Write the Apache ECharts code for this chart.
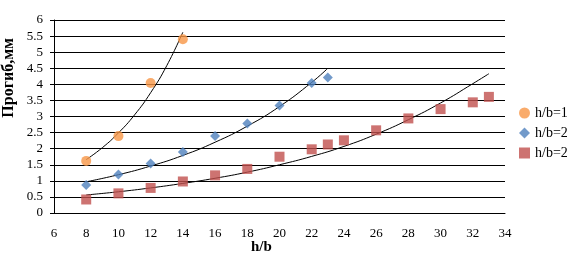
<!DOCTYPE html>
<html>
<head>
<meta charset="utf-8">
<script src="https://cdn.jsdelivr.net/npm/echarts@6/dist/echarts.min.js"></script>
<style>
  html, body { margin: 0; padding: 0; background: #fff; }
  #chart { width: 571px; height: 257px; }
</style>
</head>
<body>
<div id="chart"></div>
<script>
// measured points [h/b, deflection]
const series1 = [[8, 1.62], [10, 2.39], [12, 4.04], [14, 5.40]];
const series2 = [[8, 0.87], [10, 1.20], [12, 1.54], [14, 1.90], [16, 2.39], [18, 2.78], [20, 3.34], [22, 4.04], [23, 4.21]];
const series3 = [[8, 0.42], [10, 0.61], [12, 0.78], [14, 0.98], [16, 1.17], [18, 1.37], [20, 1.75], [22, 1.98], [23, 2.13], [24, 2.26], [26, 2.57], [28, 2.94], [30, 3.23], [32, 3.44], [33, 3.61]];

// trend lines
const trend1 = [[8, 1.66], [9, 2.03], [10, 2.49], [11, 3.05], [12, 3.74], [13, 4.58], [14, 5.62]];
const trend2 = [[8, 0.97], [10, 1.19], [12, 1.46], [14, 1.79], [16, 2.2], [18, 2.7], [20, 3.31], [22, 4.06], [23, 4.5]];
const trend3 = [[8, 0.56], [10, 0.66], [12, 0.78], [14, 0.92], [16, 1.08], [18, 1.27], [20, 1.5], [22, 1.76], [24, 2.07], [26, 2.45], [28, 2.9], [30, 3.42], [32, 4.02], [33, 4.33]];

const legendNames = ['h/b=1', 'h/b=2', 'h/b=2 '];

const font = 'Liberation Serif';
const myChart = echarts.init(document.getElementById('chart'));

function trendLine(data) {
  return {
    type: 'line',
    data: data,
    smooth: true,
    symbol: 'none',
    silent: true,
    z: 1,
    lineStyle: { color: '#000', width: 1 }
  };
}

const option = {
  animation: false,
  grid: { left: 54, right: 66, top: 20, bottom: 44 },
  xAxis: {
    type: 'value',
    min: 6, max: 34, interval: 2,
    splitLine: { show: false },
    axisLine: { show: true, lineStyle: { color: '#000' } },
    axisTick: { show: false },
    axisLabel: { color: '#000', fontFamily: font, fontSize: 13, margin: 14 }
  },
  yAxis: {
    type: 'value',
    min: 0, max: 6, interval: 0.5,
    splitLine: { show: true, lineStyle: { color: '#000', width: 1 } },
    axisLine: { show: true, lineStyle: { color: '#000' } },
    axisTick: { show: true, length: 4, lineStyle: { color: '#000' } },
    axisLabel: { color: '#000', fontFamily: font, fontSize: 13, margin: 11 }
  },
  legend: {
    orient: 'vertical',
    left: 514,
    top: 101,
    itemGap: 6,
    itemWidth: 11,
    itemHeight: 11,
    data: legendNames,
    formatter: name => name.trim(),
    textStyle: { color: '#000', fontFamily: font, fontSize: 14 }
  },
  graphic: [
    {
      type: 'text', left: 1, top: 38,
      rotation: Math.PI / 2,
      style: { text: 'Прогиб,мм', fill: '#000', font: 'bold 16px "Liberation Serif"' }
    },
    {
      type: 'text', left: 251, top: 240,
      style: { text: 'h/b', fill: '#000', font: 'bold 15px "Liberation Serif"' }
    }
  ],
  series: [
    trendLine(trend1),
    trendLine(trend2),
    trendLine(trend3),
    {
      name: legendNames[0], type: 'scatter', data: series1,
      symbol: 'circle', symbolSize: 10, z: 3,
      itemStyle: { color: '#F79646' }
    },
    {
      name: legendNames[1], type: 'scatter', data: series2,
      symbol: 'diamond', symbolSize: 10, z: 3,
      itemStyle: { color: '#4F81BD' }
    },
    {
      name: legendNames[2], type: 'scatter', data: series3,
      symbol: 'rect', symbolSize: 10, z: 3,
      itemStyle: { color: '#C0504D' }
    }
  ]
};
myChart.setOption(option);
</script>
</body>
</html>
